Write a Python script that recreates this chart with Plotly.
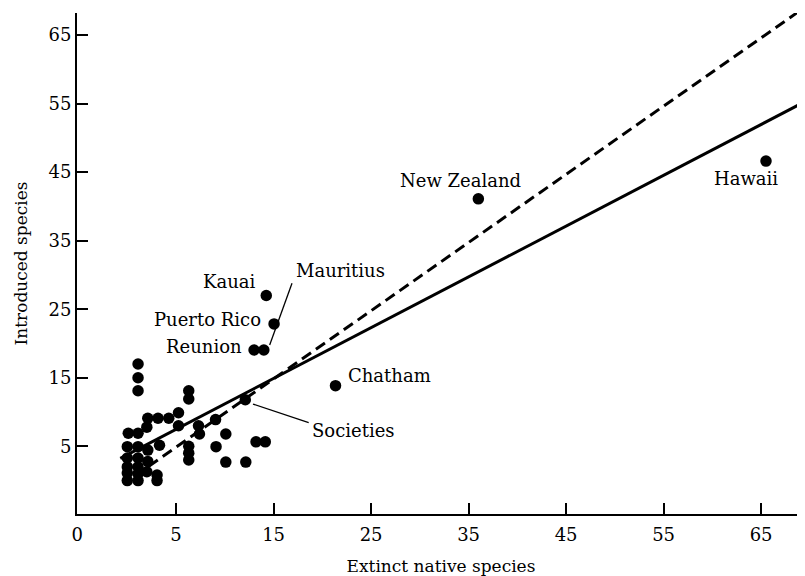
import plotly.graph_objects as go

# ---- data ----
named_islands = ["Hawaii", "New Zealand", "Kauai", "Puerto Rico", "Reunion", "Mauritius", "Chatham", "Societies"]
named_extinct = [65.5, 36.0, 14.25, 15.05, 13.0, 14.0, 21.35, 12.1]
named_introduced = [46.6, 41.1, 27.0, 22.85, 19.05, 19.05, 13.85, 11.8]

other_extinct = [1.1, 1.1, 1.1, 6.3, 6.3, 5.25, 2.1, 3.15, 4.25, 2.0, 0.1, 1.1, 5.25, 7.3, 7.4,
                 9.05, 10.1, 9.1, 6.3, 6.3, 6.3, 10.1, 12.15, 13.2, 14.15, 3.3, 0.0, 1.1, 2.1,
                 3.05, 3.05, 0.0, 1.1, 2.0, 0.0, 1.1, 0.0, 1.1, 2.1, 1.1, 0.0]
other_introduced = [17.0, 15.0, 13.1, 13.1, 11.9, 9.9, 9.1, 9.1, 9.1, 7.8, 6.9, 6.9, 8.0, 8.0, 6.8,
                    8.9, 6.8, 4.95, 5.0, 4.0, 3.0, 2.7, 2.7, 5.65, 5.65, 5.15, 4.95, 4.95, 4.45,
                    0.8, 0.0, 0.0, 0.0, 1.3, 2.0, 2.0, 3.3, 3.3, 2.8, 1.0, 1.1]

# regression (solid) and dashed reference line: intercept, slope, x-extent
solid_fit = [3.78, 0.741]
solid_x = [-0.72, 69.5]
dashed_fit = [-0.1, 0.995]
dashed_x = [2.2, 68.9]

x_tickvals = [-5.15, 5, 15, 25, 35, 45, 55, 65]
x_ticktext = ["0", "5", "15", "25", "35", "45", "55", "65"]
y_tickvals = [5, 15, 25, 35, 45, 55, 65]
y_ticktext = ["5", "15", "25", "35", "45", "55", "65"]

# label placement (data coords) and anchors
label_x = [63.41, 34.21, 13.36, 13.92, 11.93, 17.06, 22.43, 18.7]
label_y = [44.1, 43.75, 29.0, 23.53, 19.53, 30.62, 15.26, 7.38]
label_anchor = ["center", "center", "right", "right", "right", "left", "left", "left"]

# leader lines: Mauritius, Societies
leader_mauritius_x = [16.89, 14.6]
leader_mauritius_y = [28.78, 19.78]
leader_societies_x = [12.89, 18.6]
leader_societies_y = [11.17, 8.45]

FONT = "DejaVu Serif"

fig = go.Figure()

def line_y(fit, xs):
    return [fit[0] + fit[1] * x for x in xs]

fig.add_trace(go.Scatter(x=solid_x, y=line_y(solid_fit, solid_x), mode="lines",
                         line=dict(color="black", width=3), hoverinfo="skip"))
fig.add_trace(go.Scatter(x=dashed_x, y=line_y(dashed_fit, dashed_x), mode="lines",
                         line=dict(color="black", width=3, dash="11px,6px"), hoverinfo="skip"))
fig.add_trace(go.Scatter(x=leader_mauritius_x, y=leader_mauritius_y, mode="lines",
                         line=dict(color="black", width=1.3), hoverinfo="skip"))
fig.add_trace(go.Scatter(x=leader_societies_x, y=leader_societies_y, mode="lines",
                         line=dict(color="black", width=1.3), hoverinfo="skip"))
fig.add_trace(go.Scatter(x=other_extinct, y=other_introduced, mode="markers",
                         marker=dict(color="black", size=11.5, line=dict(width=0))))
fig.add_trace(go.Scatter(x=named_extinct, y=named_introduced, mode="markers",
                         text=named_islands,
                         marker=dict(color="black", size=11.5, line=dict(width=0))))

for name, lx, ly, anc in zip(named_islands, label_x, label_y, label_anchor):
    fig.add_annotation(x=lx, y=ly, text=name, showarrow=False, xanchor=anc, yanchor="middle",
                       font=dict(family=FONT, size=18, color="black"))

# page body has an 8px default margin: shift plot area to compensate
fig.update_layout(
    width=805, height=576,
    margin=dict(l=69, r=8, t=5, b=70, autoexpand=False),
    paper_bgcolor="white", plot_bgcolor="white",
    showlegend=False,
    font=dict(family=FONT, size=17, color="black"),
)
fig.update_xaxes(range=[-5.16, 69.5], showgrid=False, zeroline=False,
                 showline=True, linecolor="black", linewidth=2,
                 ticks="inside", ticklen=11, tickwidth=1.5, tickcolor="black",
                 tickvals=x_tickvals, ticktext=x_ticktext, ticklabelstandoff=3,
                 tickfont=dict(family=FONT, size=18),
                 title=dict(text="Extinct native species", font=dict(family=FONT, size=17), standoff=17))
fig.update_yaxes(range=[-4.87, 68.2], showgrid=False, zeroline=False,
                 showline=True, linecolor="black", linewidth=2,
                 ticks="inside", ticklen=11, tickwidth=1.5, tickcolor="black",
                 tickvals=y_tickvals, ticktext=y_ticktext, ticklabelstandoff=0,
                 tickfont=dict(family=FONT, size=18),
                 title=dict(text="Introduced species", font=dict(family=FONT, size=17), standoff=17))

fig.write_html("out.html")
